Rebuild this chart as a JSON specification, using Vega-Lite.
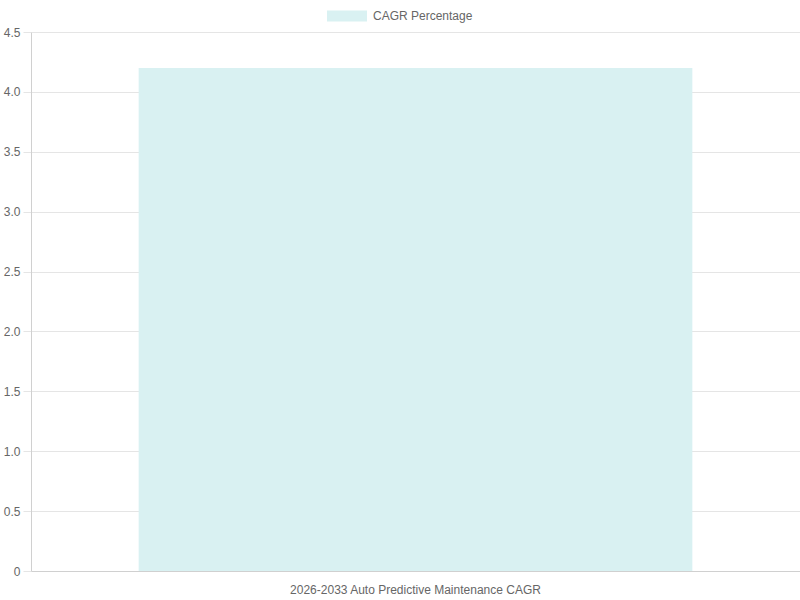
{
  "$schema": "https://vega.github.io/schema/vega-lite/v6.json",
  "width": 769,
  "height": 539,
  "autosize": "none",
  "padding": {"left": 31, "top": 32, "right": 0, "bottom": 29},
  "background": "white",
  "config": {
    "view": {"stroke": null},
    "font": "Liberation Sans"
  },
  "data": {
    "values": [
      {"category": "2026-2033 Auto Predictive Maintenance CAGR", "series": "CAGR Percentage", "cagr": 4.2}
    ]
  },
  "mark": {"type": "bar", "color": "#d9f1f2"},
  "encoding": {
    "x": {
      "field": "category",
      "type": "nominal",
      "title": null,
      "scale": {"paddingInner": 0.28, "paddingOuter": 0.14},
      "axis": {
        "labelAngle": 0,
        "labelLimit": 0,
        "labelFont": "Liberation Sans",
        "labelFontSize": 12,
        "labelColor": "#666",
        "labelPadding": 13,
        "ticks": false,
        "domainColor": "#d0d0d0",
        "grid": false
      }
    },
    "y": {
      "field": "cagr",
      "type": "quantitative",
      "title": null,
      "scale": {"domain": [0, 4.5], "nice": false},
      "axis": {
        "values": [0, 0.5, 1, 1.5, 2, 2.5, 3, 3.5, 4, 4.5],
        "labelExpr": "datum.value == 0 ? '0' : format(datum.value, '.1f')",
        "labelFont": "Liberation Sans",
        "labelFontSize": 12,
        "labelColor": "#666",
        "labelPadding": 3,
        "tickSize": 8,
        "tickColor": "#e5e5e5",
        "gridColor": "#e5e5e5",
        "domainColor": "#d0d0d0"
      }
    },
    "color": {
      "field": "series",
      "type": "nominal",
      "scale": {"range": ["#d9f1f2"]},
      "legend": {
        "title": null,
        "orient": "none",
        "legendX": 296,
        "legendY": -36,
        "padding": 0,
        "symbolType": "M-1,-0.275H1V0.275H-1Z",
        "symbolSize": 1600,
        "symbolStrokeWidth": 0,
        "labelFont": "Liberation Sans",
        "labelFontSize": 12,
        "labelColor": "#666",
        "labelOffset": 6
      }
    }
  }
}
